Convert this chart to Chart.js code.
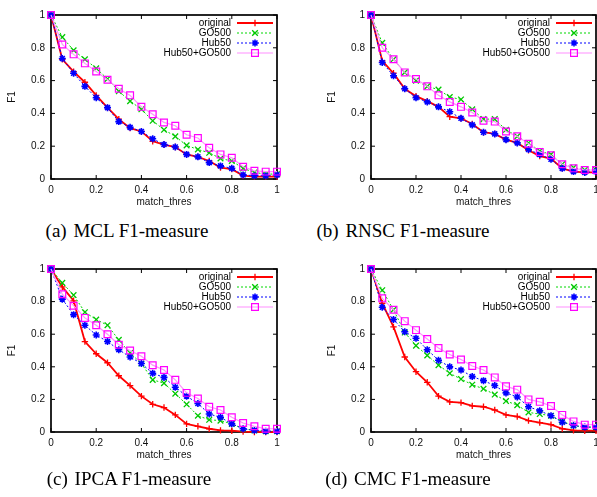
<!DOCTYPE html>
<html>
<head>
<meta charset="utf-8">
<script src="https://cdn.jsdelivr.net/npm/chart.js@4.4.1/dist/chart.umd.min.js"></script>
<style>
  html, body { margin: 0; padding: 0; background: #fff; overflow: hidden; }
  body { width: 597px; height: 497px; position: relative; }
  canvas { position: absolute; }
  .caption {
    position: absolute;
    width: 240px;
    text-align: center;
    font-family: "Liberation Serif", "Times New Roman", serif;
    font-size: 19px;
    line-height: 20px;
    color: #000;
    white-space: nowrap;
  }
  .caption span { margin-right: 2px; }
</style>
</head>
<body>
<canvas id="chartA" width="300" height="215" style="left:0;top:0"></canvas>
<canvas id="chartB" width="287" height="215" style="left:320px;top:0"></canvas>
<canvas id="chartC" width="300" height="215" style="left:0;top:254px"></canvas>
<canvas id="chartD" width="287" height="215" style="left:320px;top:254px"></canvas>

<!-- legendas centradas em cada subfigura -->
<div class="caption" style="left:7px;top:221px"><span>(a)</span> MCL F1-measure</div>
<div class="caption" style="left:283px;top:221px"><span>(b)</span> RNSC F1-measure</div>
<div class="caption" style="left:9px;top:469px"><span>(c)</span> IPCA F1-measure</div>
<div class="caption" style="left:288px;top:469px"><span>(d)</span> CMC F1-measure</div>

<script>
// valores (match_thres de 0 a 1, passo 0.05)
const thresholds = [0, 0.05, 0.1, 0.15, 0.2, 0.25, 0.3, 0.35, 0.4, 0.45, 0.5,
  0.55, 0.6, 0.65, 0.7, 0.75, 0.8, 0.85, 0.9, 0.95, 1];

const tickValues = [0, 0.2, 0.4, 0.6, 0.8, 1];
const tickLabels = ["0", "0.2", "0.4", "0.6", "0.8", "1"];

const seriesNames = ["original", "GO500", "Hub50", "Hub50+GO500"];

// (a) MCL
const mclOriginal = [1, 0.73, 0.655, 0.59, 0.51, 0.435, 0.365, 0.31, 0.29, 0.23, 0.21, 0.195, 0.15, 0.135, 0.11, 0.07, 0.06, 0.02, 0.015, 0.015, 0.015];
const mclGO500 = [1, 0.865, 0.785, 0.73, 0.675, 0.61, 0.535, 0.475, 0.425, 0.355, 0.3, 0.26, 0.205, 0.18, 0.16, 0.125, 0.11, 0.065, 0.04, 0.03, 0.03];
const mclHub50 = [1, 0.735, 0.645, 0.565, 0.495, 0.435, 0.35, 0.315, 0.29, 0.245, 0.21, 0.195, 0.15, 0.135, 0.1, 0.08, 0.065, 0.025, 0.02, 0.02, 0.025];
const mclHubGO = [1, 0.82, 0.76, 0.705, 0.655, 0.605, 0.55, 0.51, 0.44, 0.395, 0.345, 0.325, 0.27, 0.25, 0.19, 0.15, 0.13, 0.075, 0.05, 0.045, 0.045];

// (b) RNSC
const rnscOriginal = [1, 0.72, 0.645, 0.55, 0.505, 0.475, 0.44, 0.38, 0.37, 0.335, 0.285, 0.275, 0.24, 0.22, 0.175, 0.14, 0.125, 0.065, 0.045, 0.04, 0.04];
const rnscGO500 = [1, 0.83, 0.73, 0.65, 0.6, 0.565, 0.545, 0.5, 0.485, 0.425, 0.365, 0.365, 0.3, 0.26, 0.22, 0.17, 0.15, 0.09, 0.07, 0.055, 0.055];
const rnscHub50 = [1, 0.71, 0.63, 0.55, 0.495, 0.47, 0.44, 0.41, 0.37, 0.33, 0.285, 0.275, 0.24, 0.22, 0.18, 0.15, 0.12, 0.065, 0.045, 0.04, 0.045];
const rnscHubGO = [1, 0.8, 0.73, 0.65, 0.61, 0.565, 0.51, 0.47, 0.44, 0.405, 0.355, 0.35, 0.29, 0.26, 0.215, 0.165, 0.145, 0.09, 0.065, 0.055, 0.055];

// (c) IPCA
const ipcaOriginal = [1, 0.89, 0.805, 0.555, 0.48, 0.425, 0.345, 0.285, 0.22, 0.17, 0.15, 0.105, 0.05, 0.035, 0.02, 0.01, 0.008, 0.002, 0, 0, 0];
const ipcaGO500 = [1, 0.915, 0.84, 0.735, 0.69, 0.655, 0.565, 0.485, 0.42, 0.32, 0.3, 0.235, 0.17, 0.1, 0.075, 0.07, 0.05, 0.02, 0.01, 0.005, 0.005];
const ipcaHub50 = [1, 0.815, 0.72, 0.655, 0.595, 0.555, 0.505, 0.46, 0.42, 0.36, 0.335, 0.275, 0.22, 0.175, 0.11, 0.09, 0.05, 0.02, 0.01, 0.005, 0.005];
const ipcaHubGO = [1, 0.845, 0.775, 0.7, 0.655, 0.6, 0.535, 0.5, 0.465, 0.41, 0.38, 0.32, 0.24, 0.205, 0.155, 0.135, 0.09, 0.055, 0.035, 0.02, 0.02];

// (d) CMC
const cmcOriginal = [1, 0.79, 0.645, 0.46, 0.37, 0.305, 0.22, 0.185, 0.18, 0.16, 0.155, 0.135, 0.105, 0.095, 0.07, 0.058, 0.045, 0.02, 0.01, 0.008, 0.008];
const cmcGO500 = [1, 0.87, 0.75, 0.61, 0.53, 0.47, 0.41, 0.36, 0.325, 0.29, 0.265, 0.23, 0.19, 0.165, 0.12, 0.11, 0.1, 0.065, 0.04, 0.03, 0.03];
const cmcHub50 = [1, 0.765, 0.69, 0.615, 0.575, 0.505, 0.44, 0.4, 0.38, 0.34, 0.315, 0.285, 0.24, 0.215, 0.155, 0.13, 0.1, 0.06, 0.04, 0.03, 0.03];
const cmcHubGO = [1, 0.82, 0.75, 0.68, 0.625, 0.57, 0.515, 0.475, 0.445, 0.405, 0.38, 0.335, 0.28, 0.26, 0.2, 0.185, 0.16, 0.105, 0.065, 0.045, 0.045];

// estilos no jeito do gnuplot
const styles = [
  { marker: "#ff0000", line: "#ff0000", width: 1.8, dash: [], point: "cross", radius: 3.2, pw: 1.3 },
  { marker: "#00c800", line: "#00d800", width: 1, dash: [2, 2], point: "crossRot", radius: 4, pw: 1.3 },
  { marker: "#0000ff", line: "#0000ff", width: 1, dash: [2, 2], point: "star", radius: 3.5, pw: 1.6 },
  { marker: "#ff00ff", line: "#ff90ff", width: 1.2, dash: [], point: "rect", radius: 4.8, pw: 1.2 },
];

const sansFont = { family: "'Liberation Sans', Arial, sans-serif", size: 10 };

// Moldura com ticks para dentro (estilo gnuplot)
const gnuFrame = {
  id: "gnuFrame",
  beforeDatasetsDraw(chart) {
    const { ctx, chartArea: a, scales } = chart;
    const line = (x1, y1, x2, y2) => {
      ctx.beginPath();
      ctx.moveTo(x1, y1);
      ctx.lineTo(x2, y2);
      ctx.stroke();
    };
    ctx.save();
    ctx.strokeStyle = "#000";
    ctx.lineWidth = 1;
    tickValues.forEach((v) => {
      const px = scales.x.getPixelForValue(v);
      const py = scales.y.getPixelForValue(v);
      line(px, a.bottom, px, a.bottom - 4);
      line(px, a.top, px, a.top + 4);
      line(a.left, py, a.left + 4, py);
      line(a.right, py, a.right - 4, py);
    });
    ctx.lineWidth = 1.7;
    ctx.strokeRect(a.left, a.top, a.right - a.left, a.bottom - a.top);
    ctx.restore();
  },
  afterDatasetsDraw(chart) {
    // legenda dentro do gráfico, canto superior direito
    const { ctx, chartArea: a } = chart;
    ctx.save();
    ctx.font = `${sansFont.size}px ${sansFont.family}`;
    ctx.textAlign = "right";
    ctx.textBaseline = "middle";
    chart.data.datasets.forEach((ds, i) => {
      const st = styles[i];
      const y = a.top + 8 + i * 10;
      ctx.fillStyle = "#000";
      ctx.fillText(ds.label, a.right - 46, y);
      ctx.strokeStyle = st.line;
      ctx.lineWidth = st.width;
      ctx.setLineDash(st.dash);
      ctx.beginPath();
      ctx.moveTo(a.right - 40, y);
      ctx.lineTo(a.right - 4, y);
      ctx.stroke();
      ctx.setLineDash([]);
      ctx.strokeStyle = st.marker;
      ctx.fillStyle = "rgba(0,0,0,0)";
      ctx.lineWidth = st.pw;
      Chart.helpers.drawPoint(ctx, { pointStyle: st.point, radius: st.radius, rotation: 0, borderWidth: st.pw }, a.right - 22, y);
    });
    ctx.restore();
  },
};

function makeDatasets(series) {
  return series.map((values, i) => {
    const st = styles[i];
    return {
      label: seriesNames[i],
      data: thresholds.map((t, j) => ({ x: t, y: values[j] })),
      borderColor: st.line,
      borderWidth: st.width,
      borderDash: st.dash,
      pointStyle: st.point,
      pointRadius: st.radius,
      pointBorderColor: st.marker,
      pointBackgroundColor: "rgba(0,0,0,0)",
      pointBorderWidth: st.pw,
      fill: false,
      tension: 0,
      clip: false,
      order: 4 - i,
    };
  });
}

function initChart(id, series, pad) {
  const ctx = document.getElementById(id);
  return new Chart(ctx, {
    type: "line",
    data: { datasets: makeDatasets(series) },
    options: {
      responsive: false,
      animation: false,
      devicePixelRatio: 1,
      layout: { padding: pad },
      plugins: { legend: { display: false }, tooltip: { enabled: false } },
      scales: {
        x: {
          type: "linear",
          min: 0,
          max: 1,
          grid: { display: false, drawTicks: false },
          border: { display: false },
          afterBuildTicks: (s) => { s.ticks = tickValues.map((v) => ({ value: v })); },
          afterFit: (s) => { s.height = 33; },
          ticks: {
            padding: 5, color: "#111", font: sansFont, maxRotation: 0, autoSkip: false,
            callback: (v, i) => tickLabels[i],
          },
          title: { display: true, text: "match_thres", color: "#111", font: sansFont, padding: { top: 0, bottom: 4 } },
        },
        y: {
          type: "linear",
          min: 0,
          max: 1,
          grid: { display: false, drawTicks: false },
          border: { display: false },
          afterBuildTicks: (s) => { s.ticks = tickValues.map((v) => ({ value: v })); },
          afterFit: (s) => { s.width = 51; },
          ticks: {
            padding: 6, color: "#111", font: sansFont, autoSkip: false,
            callback: (v, i) => tickLabels[i],
          },
          title: { display: true, text: "F1", color: "#111", font: sansFont, padding: { top: 6, bottom: 0 } },
        },
      },
    },
    plugins: [gnuFrame],
  });
}

document.addEventListener("DOMContentLoaded", () => {
  initChart("chartA", [mclOriginal, mclGO500, mclHub50, mclHubGO], { top: 15, right: 23, bottom: 3, left: 0 });
  initChart("chartB", [rnscOriginal, rnscGO500, rnscHub50, rnscHubGO], { top: 15, right: 11, bottom: 3, left: 0 });
  initChart("chartC", [ipcaOriginal, ipcaGO500, ipcaHub50, ipcaHubGO], { top: 15, right: 23, bottom: 4, left: 0 });
  initChart("chartD", [cmcOriginal, cmcGO500, cmcHub50, cmcHubGO], { top: 15, right: 11, bottom: 4, left: 0 });
});
</script>
</body>
</html>
